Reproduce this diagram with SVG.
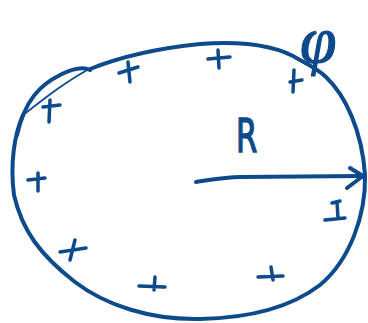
<svg xmlns="http://www.w3.org/2000/svg" width="368" height="323" viewBox="0 0 368 323">
<style>
.s{fill:none;stroke:#0c4a8b;stroke-width:4;stroke-linecap:round;stroke-linejoin:round}
.p{fill:none;stroke:#0c4a8b;stroke-width:3.5;stroke-linecap:round}
.t{fill:#0c4a8b;stroke:#0c4a8b;stroke-width:1.2}
</style>
<rect width="368" height="323" fill="#fff"/>
<!-- outline -->
<path class="s" d="M90,69 C125,55 160,48 200,44 C240,41 275,44 300,60 C315,68 322,73 326,77 C345,95 362,130 365,175 C366,215 350,260 320,285 C290,308 250,318 200,319 C150,320 105,305 75,282 C40,255 22,230 14,195 C10,165 14,135 23,115"/>
<path class="s" d="M17,135 C25,100 40,85 60,75 C72,69 82,66 90,70"/>
<path d="M22,116 C45,98 65,82 91,68" fill="none" stroke="#0c4a8b" stroke-width="1.8" stroke-linecap="round"/>
<!-- phi -->
<text class="t" x="300" y="62" font-size="66" font-family="'Liberation Serif',serif" font-style="italic">φ</text>
<!-- R -->
<text class="t" x="236" y="152" font-size="36" font-family="'DejaVu Sans',sans-serif" transform="translate(236,152) scale(0.85,1.3) translate(-236,-152)">R</text>
<!-- arrow -->
<path class="s" d="M196,182 C210,180 225,177 240,177 C280,177 320,176 362,176"/>
<path class="s" d="M350,168 L363,176 L347,188"/>
<!-- plus signs -->
<path class="p" d="M119,73 L138,67 M128,62 L130,82"/>
<path class="p" d="M208,59 L230,57 M218,50 L219,68"/>
<path class="p" d="M290,82 L302,80 M294,70 L293,92"/>
<path class="p" d="M43,107 L60,105 M50,100 L49,122"/>
<path class="p" d="M28,180 L45,178 M38,173 L38,191"/>
<path class="p" d="M60,252 L86,248 M75,240 L70,260"/>
<path class="p" d="M139,286 L165,287 M155,277 L154,290"/>
<path class="p" d="M258,277 L283,276 M271,267 L273,280"/>
<path class="p" d="M325,220 L345,218 M337,202 L338,218 M332,203 L340,201"/>
</svg>
